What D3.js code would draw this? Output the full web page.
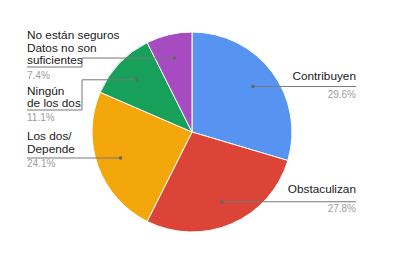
<!DOCTYPE html>
<html>
<head>
<meta charset="utf-8">
<script src="https://cdn.jsdelivr.net/npm/d3@7"></script>
<style>
  body { margin: 0; background: #fff; }
  text { font-family: Arial, "Liberation Sans", sans-serif; }
</style>
</head>
<body>
<div id="chart"></div>
<script>
/* DATA */
const categories = ["Contribuyen", "Obstaculizan", "Los dos/ Depende", "Ningún de los dos", "No están seguros Datos no son suficientes"];
const labelLines = [["Contribuyen"], ["Obstaculizan"], ["Los dos/", "Depende"], ["Ningún", "de los dos"], ["No están seguros", "Datos no son", "suficientes"]];
const values = [29.6, 27.8, 24.1, 11.1, 7.4];
const pctLabels = ["29.6%", "27.8%", "24.1%", "11.1%", "7.4%"];
const colors = ["#5794f2", "#db4437", "#f4a70a", "#17a05a", "#a64cc0"];

/* CONSTANTS */
const width = 420, height = 275;
const cx = 192, cy = 132, radius = 100;
const rightX = 356, leftX = 27, elbowX = 82;

const svg = d3.select("#chart").append("svg")
  .attr("width", width)
  .attr("height", height);

const data = categories.map((c, i) => ({ name: c, lines: labelLines[i], value: values[i], pct: pctLabels[i], color: colors[i] }));

const pie = d3.pie().sort(null).value(d => d.value);
const arcs = pie(data);
const arc = d3.arc().innerRadius(0).outerRadius(radius);
const inner = d3.arc().innerRadius(radius * 0.76).outerRadius(radius * 0.76);

const g = svg.append("g").attr("transform", `translate(${cx},${cy})`);

g.selectAll("path.slice")
  .data(arcs)
  .join("path")
  .attr("class", "slice")
  .attr("d", arc)
  .attr("fill", d => d.data.color)
  .attr("stroke", "#fff")
  .attr("stroke-width", 1);

// label layout: text baselines per slice
const layout = [
  { side: "right", firstBase: 80, lineY: 87, pctBase: 97.5 },
  { side: "right", firstBase: 193, lineY: 202, pctBase: 212 },
  { side: "left", firstBase: 140, lineY: 157.5, pctBase: 167 },
  { side: "left", firstBase: 94.5, lineY: 110, pctBase: 121 },
  { side: "left", firstBase: 39, lineY: 67, pctBase: 78.5 }
];

arcs.forEach((a, i) => {
  const L = layout[i];
  const [px, py] = inner.centroid(a);
  const dx = cx + px, dy = cy + py;
  let pts;
  if (L.side === "right") {
    pts = [[dx, dy], [rightX, dy]];
  } else if (Math.abs(L.lineY - dy) < 2) {
    pts = [[dx, dy], [leftX, dy]];
  } else {
    pts = [[dx, dy], [elbowX, dy], [elbowX, L.lineY], [leftX, L.lineY]];
  }
  svg.append("path")
    .attr("d", d3.line()(pts))
    .attr("fill", "none")
    .attr("stroke", "#777")
    .attr("stroke-width", 1);
  svg.append("circle")
    .attr("cx", dx).attr("cy", dy).attr("r", 1.8)
    .attr("fill", "#666");

  const anchor = L.side === "right" ? "end" : "start";
  const tx = L.side === "right" ? rightX : leftX;
  a.data.lines.forEach((t, j) => {
    svg.append("text")
      .attr("x", tx).attr("y", L.firstBase + j * 12.5)
      .attr("text-anchor", anchor)
      .attr("font-size", 11.8)
      .attr("fill", "#1a1a1a")
      .text(t);
  });
  svg.append("text")
    .attr("x", tx).attr("y", L.pctBase)
    .attr("text-anchor", anchor)
    .attr("font-size", 10)
    .attr("fill", "#9e9e9e")
    .text(a.data.pct);
});
</script>
</body>
</html>
